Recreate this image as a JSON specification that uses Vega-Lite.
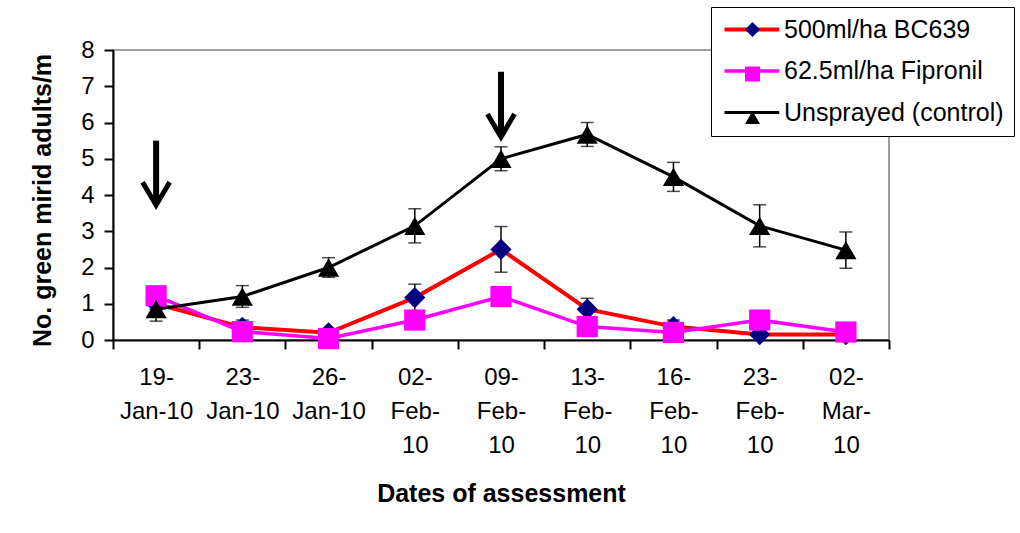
{
  "$schema": "https://vega.github.io/schema/vega-lite/v6.json",
  "width": 776,
  "height": 290,
  "autosize": {"type": "none"},
  "padding": {"left": 113, "top": 50, "right": 131, "bottom": 193},
  "background": "white",
  "config": {
    "font": "Liberation Sans",
    "view": {"stroke": "#808080", "strokeWidth": 1.5}
  },
  "datasets": {
    "counts": [
      {"series": "500ml/ha BC639", "date": "19-Jan-10", "value": 1.0, "err": 0.15},
      {"series": "500ml/ha BC639", "date": "23-Jan-10", "value": 0.35, "err": 0.2},
      {"series": "500ml/ha BC639", "date": "26-Jan-10", "value": 0.2, "err": 0.1},
      {"series": "500ml/ha BC639", "date": "02-Feb-10", "value": 1.17, "err": 0.37},
      {"series": "500ml/ha BC639", "date": "09-Feb-10", "value": 2.5, "err": 0.63},
      {"series": "500ml/ha BC639", "date": "13-Feb-10", "value": 0.85, "err": 0.3},
      {"series": "500ml/ha BC639", "date": "16-Feb-10", "value": 0.37, "err": 0.18},
      {"series": "500ml/ha BC639", "date": "23-Feb-10", "value": 0.15, "err": 0.05},
      {"series": "500ml/ha BC639", "date": "02-Mar-10", "value": 0.15, "err": 0.05},
      {"series": "62.5ml/ha Fipronil", "date": "19-Jan-10", "value": 1.22, "err": 0.05},
      {"series": "62.5ml/ha Fipronil", "date": "23-Jan-10", "value": 0.23, "err": 0.05},
      {"series": "62.5ml/ha Fipronil", "date": "26-Jan-10", "value": 0.04, "err": 0.03},
      {"series": "62.5ml/ha Fipronil", "date": "02-Feb-10", "value": 0.55, "err": 0.05},
      {"series": "62.5ml/ha Fipronil", "date": "09-Feb-10", "value": 1.2, "err": 0.05},
      {"series": "62.5ml/ha Fipronil", "date": "13-Feb-10", "value": 0.37, "err": 0.05},
      {"series": "62.5ml/ha Fipronil", "date": "16-Feb-10", "value": 0.21, "err": 0.05},
      {"series": "62.5ml/ha Fipronil", "date": "23-Feb-10", "value": 0.55, "err": 0.05},
      {"series": "62.5ml/ha Fipronil", "date": "02-Mar-10", "value": 0.22, "err": 0.05},
      {"series": "Unsprayed (control)", "date": "19-Jan-10", "value": 0.85, "err": 0.33},
      {"series": "Unsprayed (control)", "date": "23-Jan-10", "value": 1.2, "err": 0.3},
      {"series": "Unsprayed (control)", "date": "26-Jan-10", "value": 2.0, "err": 0.27},
      {"series": "Unsprayed (control)", "date": "02-Feb-10", "value": 3.15, "err": 0.47},
      {"series": "Unsprayed (control)", "date": "09-Feb-10", "value": 5.0, "err": 0.33},
      {"series": "Unsprayed (control)", "date": "13-Feb-10", "value": 5.67, "err": 0.33},
      {"series": "Unsprayed (control)", "date": "16-Feb-10", "value": 4.5, "err": 0.4},
      {"series": "Unsprayed (control)", "date": "23-Feb-10", "value": 3.15, "err": 0.58},
      {"series": "Unsprayed (control)", "date": "02-Mar-10", "value": 2.48, "err": 0.5}
    ],
    "arrows": [
      {"date": "19-Jan-10", "top": 5.5, "tip": 3.72},
      {"date": "09-Feb-10", "top": 7.4, "tip": 5.6}
    ]
  },
  "data": {"name": "counts"},
  "encoding": {
    "x": {
      "field": "date",
      "type": "nominal",
      "scale": {
        "type": "band",
        "paddingInner": 0,
        "paddingOuter": 0,
        "domain": ["19-Jan-10", "23-Jan-10", "26-Jan-10", "02-Feb-10", "09-Feb-10", "13-Feb-10", "16-Feb-10", "23-Feb-10", "02-Mar-10"]
      },
      "axis": {
        "title": "Dates of assessment",
        "titleFontSize": 25,
        "titleFontWeight": "bold",
        "titleColor": "black",
        "titleBaseline": "middle",
        "titleY": 153,
        "labelAngle": 0,
        "labelFontSize": 24,
        "labelColor": "black",
        "labelLineHeight": 34,
        "labelPadding": 16,
        "labelBaseline": "top",
        "labelExpr": "indexof(datum.label, 'Jan') >= 0 ? [slice(datum.label, 0, 3), slice(datum.label, 3)] : [slice(datum.label, 0, 3), slice(datum.label, 3, 7), slice(datum.label, 7)]",
        "tickBand": "extent",
        "tickSize": 9,
        "tickColor": "black",
        "tickWidth": 2,
        "domainColor": "black",
        "domainWidth": 2,
        "grid": false
      }
    },
    "y": {
      "field": "value",
      "type": "quantitative",
      "scale": {"domain": [0, 8], "nice": false},
      "axis": {
        "title": "No. green mirid adults/m",
        "titleFontSize": 25,
        "titleFontWeight": "bold",
        "titleColor": "black",
        "titleBaseline": "middle",
        "titleX": -71,
        "titleY": 150,
        "values": [0, 1, 2, 3, 4, 5, 6, 7, 8],
        "labelFontSize": 24,
        "labelColor": "black",
        "labelPadding": 10,
        "tickSize": 9,
        "tickColor": "black",
        "tickWidth": 2,
        "domainColor": "black",
        "domainWidth": 2,
        "grid": false
      }
    }
  },
  "layer": [
    {
      "mark": {"type": "line"},
      "encoding": {
        "color": {
          "field": "series",
          "type": "nominal",
          "scale": {
            "domain": ["500ml/ha BC639", "62.5ml/ha Fipronil", "Unsprayed (control)"],
            "range": ["#FF0000", "#FF00FF", "#000000"]
          },
          "legend": {
            "orient": "none",
            "legendX": 598,
            "legendY": -43,
            "title": null,
            "symbolType": "M-1.2,0L6.1,0",
            "symbolSize": 225,
            "symbolStrokeWidth": 3.5,
            "labelFontSize": 25,
            "labelColor": "black",
            "labelOffset": 38,
            "labelLimit": 400,
            "padding": 10,
            "rowPadding": 15.5,
            "strokeColor": "black",
            "fillColor": "white"
          }
        },
        "strokeWidth": {
          "field": "series",
          "type": "ordinal",
          "scale": {
            "domain": ["500ml/ha BC639", "62.5ml/ha Fipronil", "Unsprayed (control)"],
            "range": [4, 3, 3]
          },
          "legend": null
        }
      }
    },
    {
      "mark": {"type": "errorbar", "ticks": {"size": 13}, "color": "black", "thickness": 1.5},
      "encoding": {
        "yError": {"field": "err"},
        "detail": {"field": "series", "type": "nominal"}
      }
    },
    {
      "mark": {"type": "point", "filled": true, "size": 450, "opacity": 1},
      "encoding": {
        "shape": {
          "field": "series",
          "type": "nominal",
          "scale": {"range": ["diamond", "square", "triangle-up"]},
          "legend": {
            "orient": "none",
            "legendX": 617,
            "legendY": -43,
            "title": null,
            "symbolSize": 225,
            "symbolStrokeWidth": 3.5,
            "labelFontSize": 25,
            "labelExpr": "''",
            "labelOffset": 38,
            "padding": 10,
            "rowPadding": 15.5,
            "zindex": 2
          }
        },
        "fill": {
          "field": "series",
          "type": "nominal",
          "scale": {"range": ["#000080", "#FF00FF", "#000000"]},
          "legend": {
            "orient": "none",
            "legendX": 617,
            "legendY": -43,
            "title": null,
            "symbolSize": 225,
            "symbolStrokeWidth": 3.5,
            "labelFontSize": 25,
            "labelExpr": "''",
            "labelOffset": 38,
            "padding": 10,
            "rowPadding": 15.5,
            "zindex": 2
          }
        }
      }
    },
    {
      "data": {"name": "arrows"},
      "mark": {"type": "rule", "color": "black", "strokeWidth": 6},
      "encoding": {
        "y": {"field": "top", "type": "quantitative"},
        "y2": {"field": "tip"}
      }
    },
    {
      "data": {"name": "arrows"},
      "mark": {
        "type": "point",
        "shape": "M-1,-1.7L0,0L1,-1.7",
        "filled": false,
        "size": 729,
        "stroke": "black",
        "strokeWidth": 5,
        "opacity": 1
      },
      "encoding": {
        "y": {"field": "tip", "type": "quantitative"}
      }
    }
  ]
}
